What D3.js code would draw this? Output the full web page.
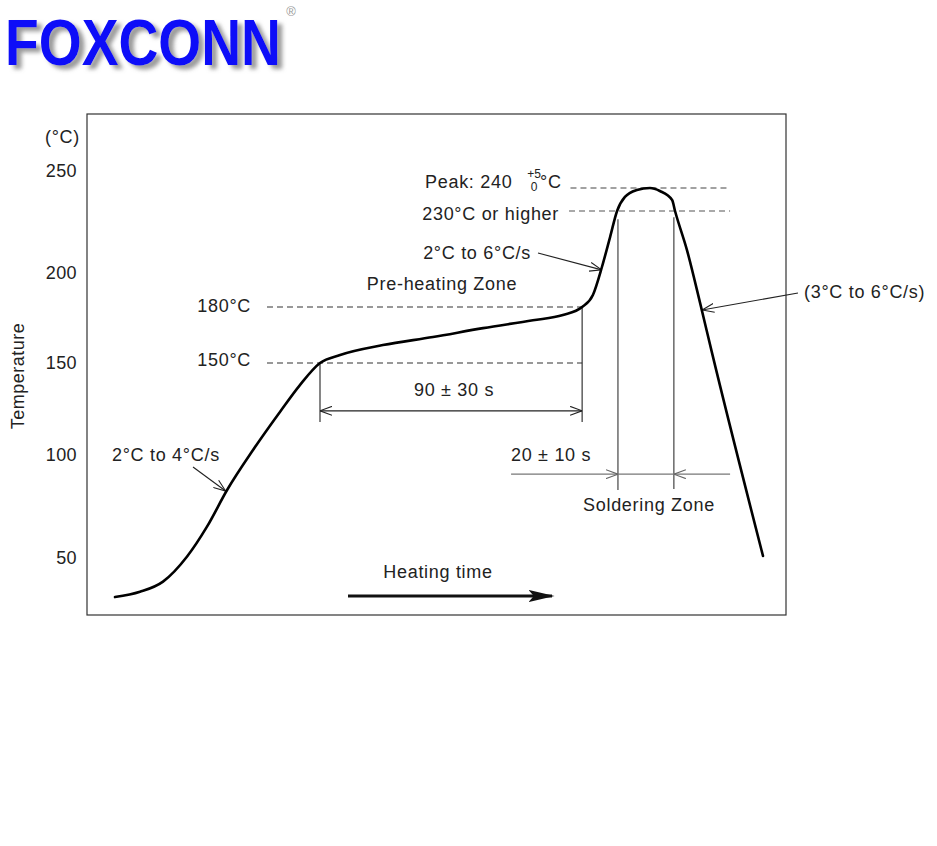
<!DOCTYPE html>
<html><head><meta charset="utf-8">
<script src="https://cdn.jsdelivr.net/npm/d3@7"></script>
<style>body{margin:0;background:#fff}svg{display:block}text{font-family:"Liberation Sans",Arial,sans-serif}
.lbl{font-size:18px;letter-spacing:0.7px;fill:#222}</style>
</head><body>
<script>
// ---- data ----
const profileTime = [9.6,18.2,26.1,34.3,41.2,48.1,57.0,66.3,73.1,80.0,86.9,101.6,118.8,136.0,153.1,163.4,170.0,173.7,176.8,179.6,182.0,184.7,188.8,193.3,196.7,200.9,201.9,206.0,210.5,214.6,232.1];
const profileTemp = [30.8,33.4,38.4,50.6,65.2,83.0,102.7,123.5,138.0,150.0,154.3,159.6,163.9,168.7,172.9,175.7,180.0,187.1,202.9,217.4,230.0,236.1,239.1,240.0,238.7,234.8,230.0,211.1,182.4,155.4,51.0];
const yTicks = [250,200,150,100,50];
const levelTemps = [150,180,230,240];
const preheatStart = 80, preheatEnd = 170;
const solderStart = 182.3, solderEnd = 201.5;

const W = 937, H = 846;
const box = {l:87, t:114, r:786, b:615};
const x = d3.scaleLinear().domain([0,240]).range([box.l, box.r]);
// schematic (non-uniform) temperature axis as drawn in the source figure
const y = d3.scaleLinear()
  .domain([22,50,100,150,180,200,230,240,250,283.5])
  .range([box.b,558,455,363,307,273,211,188,171,box.t]);

const svg = d3.select("body").append("svg").attr("width",W).attr("height",H);
const defs = svg.append("defs");
const sh = defs.append("filter").attr("id","shadow").attr("x","-10%").attr("y","-20%").attr("width","130%").attr("height","150%");
sh.append("feDropShadow").attr("dx",5).attr("dy",4).attr("stdDeviation",2.2).attr("flood-color","#777").attr("flood-opacity",0.75);
function marker(id, color){
  const m = defs.append("marker").attr("id",id).attr("viewBox","0 0 12 10").attr("refX",12).attr("refY",5)
    .attr("markerWidth",12).attr("markerHeight",10).attr("markerUnits","userSpaceOnUse").attr("orient","auto-start-reverse");
  m.append("path").attr("d","M0,0.5 L12,5 L0,9.5").attr("fill","none").attr("stroke",color).attr("stroke-width",1.1);
}
marker("openArrow","#222");
marker("grayArrow","#666");
const fm = defs.append("marker").attr("id","filledArrow").attr("viewBox","0 0 10 10").attr("refX",9).attr("refY",5)
  .attr("markerWidth",26).attr("markerHeight",12).attr("markerUnits","userSpaceOnUse").attr("orient","auto").attr("preserveAspectRatio","none");
fm.append("path").attr("d","M0,0 L10,5 L0,10 L2,5 Z").attr("fill","#111");

// ---- logo ----
const logoG = svg.append("g").attr("filter","url(#shadow)");
const logoT = logoG.append("text").attr("x",0).attr("y",0).text("FOXCONN")
  .attr("font-family","'DejaVu Sans',sans-serif").attr("font-weight","bold").attr("font-size",64).attr("fill","#0808f8");
const natW = logoT.node().getComputedTextLength() || 358;
logoT.attr("transform",`translate(5,65) scale(${276/natW},1)`);
svg.append("text").attr("x",291).attr("y",11).attr("dy","0.35em").attr("text-anchor","middle").text("®").attr("font-size",13).attr("fill","#999");

// ---- frame ----
svg.append("rect").attr("x",box.l).attr("y",box.t).attr("width",box.r-box.l).attr("height",box.b-box.t)
  .attr("fill","none").attr("stroke","#333").attr("stroke-width",1.2);

// y tick labels
svg.selectAll(".yt").data(yTicks).enter().append("text").attr("class","lbl")
  .attr("x",77).attr("y",d=>y(d)).attr("dy","0.35em").attr("text-anchor","end")
  .style("letter-spacing","0.4px").text(d=>d);
svg.append("text").attr("class","lbl").attr("x",45).attr("y",137).attr("dy","0.35em").text("(°C)");
svg.append("text").attr("class","lbl").attr("transform","translate(18,376) rotate(-90)").attr("dy","0.35em").attr("text-anchor","middle")
  .style("letter-spacing","0.5px").text("Temperature");

// dashed level lines
const dashG = svg.append("g").attr("stroke","#333").attr("stroke-width",1.2).attr("stroke-dasharray","6,4").attr("fill","none");
dashG.append("line").attr("x1",x(61.8)).attr("x2",x(preheatEnd)).attr("y1",y(levelTemps[0])).attr("y2",y(levelTemps[0]));
dashG.append("line").attr("x1",x(61.8)).attr("x2",x(preheatEnd)).attr("y1",y(levelTemps[1])).attr("y2",y(levelTemps[1]));
dashG.append("line").attr("x1",x(165.5)).attr("x2",x(220.8)).attr("y1",y(levelTemps[2])).attr("y2",y(levelTemps[2])).attr("stroke","#555");
dashG.append("line").attr("x1",x(166)).attr("x2",x(219.7)).attr("y1",y(levelTemps[3])).attr("y2",y(levelTemps[3])).attr("stroke","#444");

svg.append("text").attr("class","lbl").attr("x",251).attr("y",y(150)-3).attr("dy","0.35em").attr("text-anchor","end").text("150°C");
svg.append("text").attr("class","lbl").attr("x",251).attr("y",y(180)-1).attr("dy","0.35em").attr("text-anchor","end").text("180°C");
svg.append("text").attr("class","lbl").attr("x",559).attr("y",y(230)+3).attr("dy","0.35em").attr("text-anchor","end").text("230°C or higher");
// Peak label
svg.append("text").attr("class","lbl").attr("x",425).attr("y",y(240)-6).attr("dy","0.35em").text("Peak: 240");
svg.append("text").attr("x",534).attr("y",y(240)-10).attr("text-anchor","middle").attr("font-size",12).attr("fill","#222").text("+5");
svg.append("text").attr("x",534).attr("y",y(240)+3).attr("text-anchor","middle").attr("font-size",12).attr("fill","#222").text("0");
svg.append("text").attr("class","lbl").attr("x",540).attr("y",y(240)-6).attr("dy","0.35em").text("°C");

// preheat dimension
const thin = svg.append("g").attr("stroke","#222").attr("stroke-width",1.1).attr("fill","none");
thin.append("line").attr("x1",x(preheatStart)).attr("x2",x(preheatStart)).attr("y1",y(150)).attr("y2",y(118));
thin.append("line").attr("x1",x(preheatEnd)).attr("x2",x(preheatEnd)).attr("y1",y(180)).attr("y2",y(118));
thin.append("line").attr("x1",x(preheatStart)).attr("x2",x(preheatEnd)).attr("y1",y(124)).attr("y2",y(124))
  .attr("marker-start","url(#openArrow)").attr("marker-end","url(#openArrow)");
svg.append("text").attr("class","lbl").attr("x",(x(preheatStart)+x(preheatEnd))/2+3).attr("y",390).attr("dy","0.35em").attr("text-anchor","middle").text("90 ± 30 s");
svg.append("text").attr("class","lbl").attr("x",442).attr("y",284).attr("dy","0.35em").attr("text-anchor","middle").text("Pre-heating Zone");

// soldering zone
const gry = svg.append("g").attr("stroke","#444").attr("stroke-width",1.2).attr("fill","none");
gry.append("line").attr("x1",x(solderStart)).attr("x2",x(solderStart)).attr("y1",y(226)).attr("y2",y(83));
gry.append("line").attr("x1",x(solderEnd)).attr("x2",x(solderEnd)).attr("y1",y(227)).attr("y2",y(83.5));
const sy = y(90.7);
svg.append("line").attr("x1",x(145.6)).attr("x2",x(solderStart)).attr("y1",sy).attr("y2",sy).attr("stroke","#777").attr("stroke-width",1.3).attr("marker-end","url(#grayArrow)");
svg.append("line").attr("x1",x(220.8)).attr("x2",x(solderEnd)).attr("y1",sy).attr("y2",sy).attr("stroke","#777").attr("stroke-width",1.3).attr("marker-end","url(#grayArrow)");
svg.append("line").attr("x1",x(solderStart)).attr("x2",x(solderEnd)).attr("y1",sy).attr("y2",sy).attr("stroke","#777").attr("stroke-width",1.3);
svg.append("text").attr("class","lbl").attr("x",511).attr("y",455).attr("dy","0.35em").text("20 ± 10 s");
svg.append("text").attr("class","lbl").attr("x",649).attr("y",505).attr("dy","0.35em").attr("text-anchor","middle").text("Soldering Zone");

// slope callouts
svg.append("text").attr("class","lbl").attr("x",112).attr("y",455).attr("dy","0.35em").text("2°C to 4°C/s");
thin.append("line").attr("x1",193).attr("y1",467).attr("x2",x(47.6)).attr("y2",y(82.5)).attr("marker-end","url(#openArrow)");
svg.append("text").attr("class","lbl").attr("x",531).attr("y",253).attr("dy","0.35em").attr("text-anchor","end").text("2°C to 6°C/s");
thin.append("line").attr("x1",538).attr("y1",253).attr("x2",x(176.7)).attr("y2",y(201.5)).attr("marker-end","url(#openArrow)");
svg.append("text").attr("class","lbl").attr("x",804).attr("y",292).attr("dy","0.35em").text("(3°C to 6°C/s)");
thin.append("line").attr("x1",798).attr("y1",293).attr("x2",x(211.2)).attr("y2",y(178.4)).attr("marker-end","url(#openArrow)");

// heating time arrow
svg.append("text").attr("class","lbl").attr("x",438).attr("y",572).attr("dy","0.35em").attr("text-anchor","middle").text("Heating time");
svg.append("line").attr("x1",348).attr("x2",552).attr("y1",596).attr("y2",596).attr("stroke","#111").attr("stroke-width",3).attr("marker-end","url(#filledArrow)");

// profile curve
const pts = profileTime.map((t,i)=>[t, profileTemp[i]]);
svg.append("path").datum(pts)
  .attr("d", d3.line().x(d=>x(d[0])).y(d=>y(d[1])).curve(d3.curveMonotoneX))
  .attr("fill","none").attr("stroke","#000").attr("stroke-width",2.6).attr("stroke-linejoin","round").attr("stroke-linecap","round");
</script>
</body></html>
